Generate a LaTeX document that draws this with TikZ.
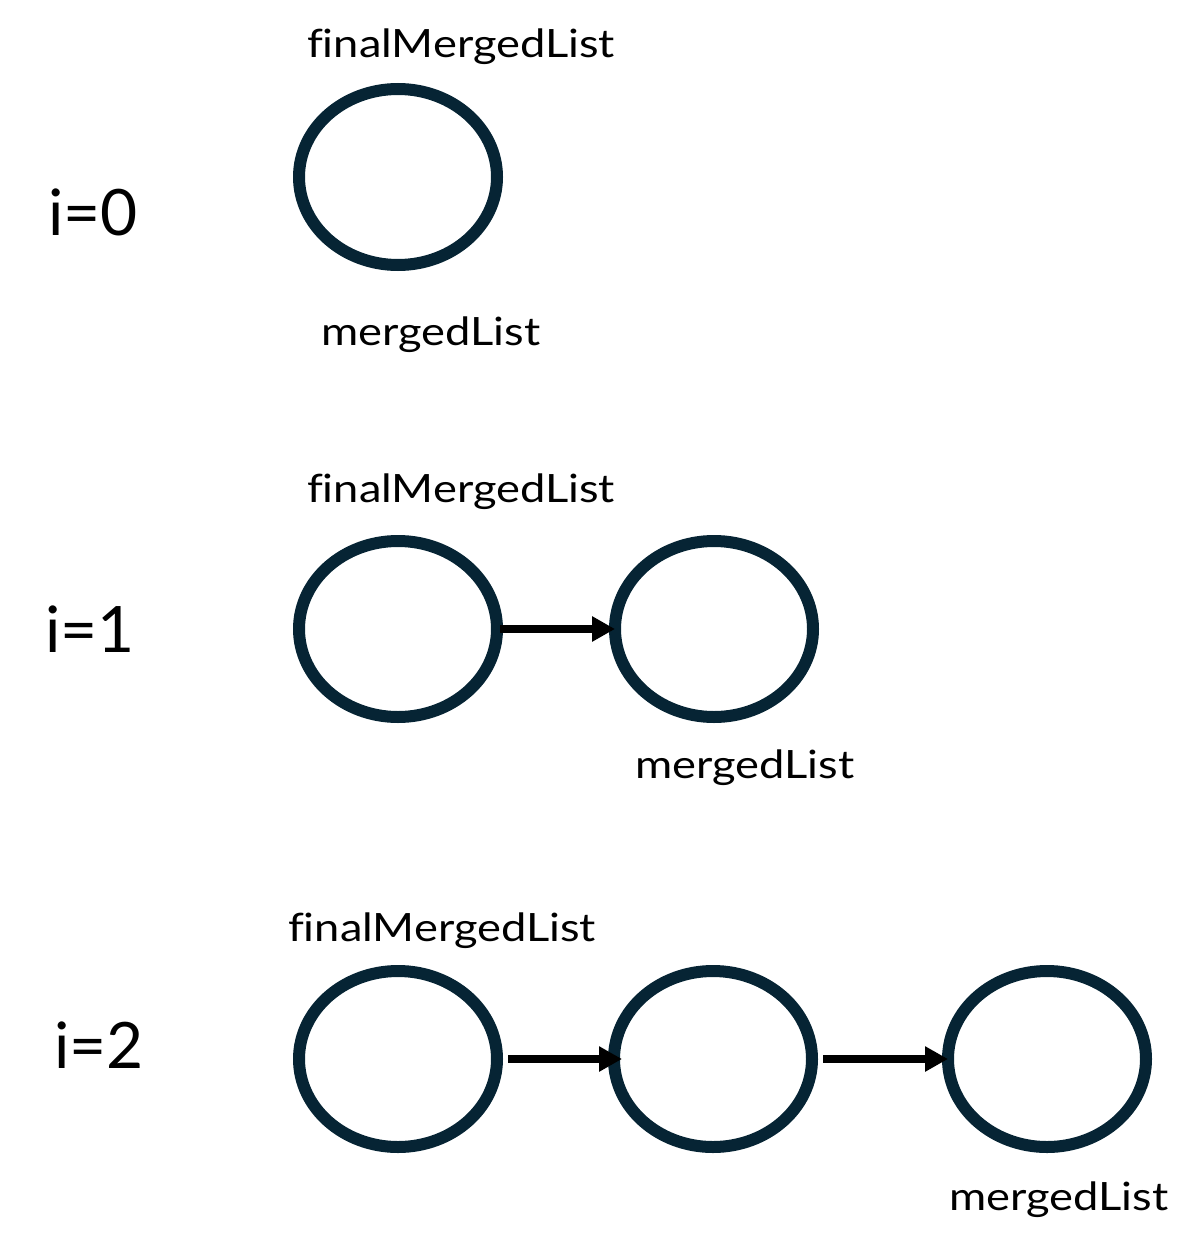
\documentclass[tikz,border=0pt]{standalone}
\usepackage{fontspec}
\setmainfont{Lato}
\newfontfamily\lblfont[FakeStretch=1.16,Ligatures=NoCommon]{Lato}
\usetikzlibrary{shapes.geometric,arrows.meta}
\definecolor{navy}{RGB}{6,36,52}
\begin{document}
\begin{tikzpicture}[x=1pt,y=-1pt,
  listnode/.style={ellipse,draw=navy,line width=12pt,inner sep=0pt,
    minimum width=198pt,minimum height=176pt},
  link/.style={line width=8pt,-{Triangle[length=23pt,width=24pt]},black},
  lbl/.style={anchor=base,inner sep=0pt,font=\lblfont\fontsize{39}{46}\selectfont},
  idx/.style={anchor=base,inner sep=0pt,font=\fontsize{64}{76}\selectfont}]
\useasboundingbox (0,0) rectangle (1200,1255);
% row 0
\node[idx] (i0) at (93,235) {i=0};
\node[lbl] (f0) at (461,57) {finalMergedList};
\node[listnode] (a0) at (398,177) {};
\node[lbl] (m0) at (431,345) {mergedList};
% row 1
\node[idx] (i1) at (90,652) {i=1};
\node[lbl] (f1) at (461,502) {finalMergedList};
\node[listnode] (a1) at (398,629) {};
\node[listnode] (b1) at (714,629) {};
\node[lbl] (m1) at (745,778) {mergedList};
\draw[link] ([xshift=-3pt]a1.east) -- ([xshift=6pt]b1.west);
% row 2
\node[idx] (i2) at (99,1068) {i=2};
\node[lbl] (f2) at (442,941) {finalMergedList};
\node[listnode] (a2) at (398,1059) {};
\node[listnode] (b2) at (713,1059) {};
\node[listnode] (c2) at (1047,1059) {};
\node[lbl] (m2) at (1059,1210) {mergedList};
\draw[link] ([xshift=5pt]a2.east) -- ([xshift=14pt]b2.west);
\draw[link] ([xshift=5pt]b2.east) -- ([xshift=6pt]c2.west);
\end{tikzpicture}
\end{document}
